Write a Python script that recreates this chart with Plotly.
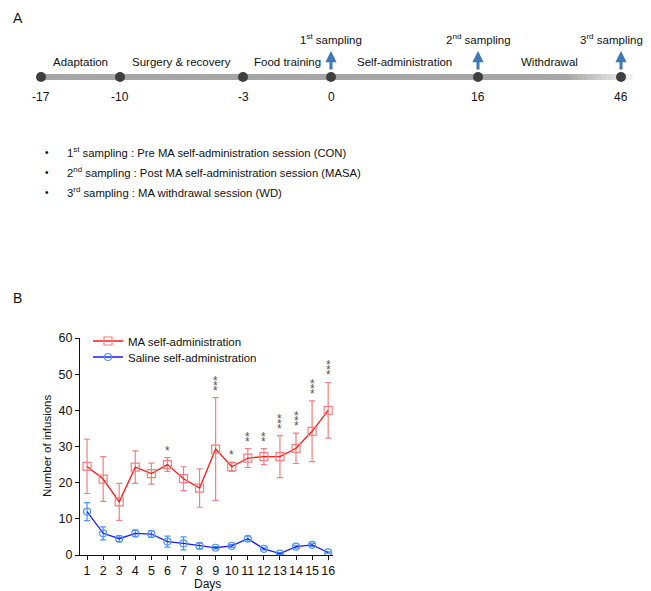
import plotly.graph_objects as go

# ---------------- data ----------------
days = list(range(1, 17))
ma_mean = [24.5, 21.0, 14.7, 24.3, 22.5, 25.0, 21.1, 18.5, 29.3, 24.4, 26.8, 27.2, 27.2, 29.5, 34.2, 40.0]
ma_err = [7.5, 6.2, 5.1, 4.5, 2.9, 1.9, 3.3, 5.3, 14.2, 1.3, 2.6, 2.2, 5.8, 4.2, 8.4, 7.7]
sal_mean = [12.0, 6.0, 4.5, 6.0, 5.8, 3.7, 3.2, 2.5, 2.0, 2.5, 4.5, 1.7, 0.4, 2.3, 2.8, 0.7]
sal_err = [2.5, 1.8, 0.8, 0.9, 0.9, 1.5, 1.8, 0.8, 0.3, 0.4, 0.7, 0.3, 0.2, 0.4, 0.4, 0.2]
sig_stars = [0, 0, 0, 0, 0, 1, 0, 0, 3, 1, 2, 2, 3, 3, 3, 3]
y_ticks = [0, 10, 20, 30, 40, 50, 60]

timeline_days = ["-17", "-10", "-3", "0", "16", "46"]
phase_labels = ["Adaptation", "Surgery & recovery", "Food training", "Self-administration", "Withdrawal"]
sampling_labels = ["1<sup>st</sup> sampling", "2<sup>nd</sup> sampling", "3<sup>rd</sup> sampling"]
sampling_nodes = [3, 4, 5]
bullet_lines = [
    "1<sup>st</sup> sampling : Pre MA self-administration session (CON)",
    "2<sup>nd</sup> sampling : Post MA self-administration session (MASA)",
    "3<sup>rd</sup> sampling : MA withdrawal session (WD)",
]

# ---------------- layout constants ----------------
W, H = 651, 591          # browser window
OFF = 8                  # default page body margin
FW, FH = W - OFF, H - OFF
FONT = "Arial, Liberation Sans, Helvetica, sans-serif"
node_px = [41, 120, 243, 331, 478, 621]   # schematic positions of timeline nodes (page px)
line_y = 77

fig = go.Figure()

# ---------- Panel A: schematic timeline (hidden page-pixel axes x2/y2) ----------
shapes = []
fade_start, fade_end = 562, 632
shapes.append(dict(type="line", xref="x2", yref="y2", x0=node_px[0], x1=fade_start, y0=line_y, y1=line_y,
                   line=dict(color="#a6a6a6", width=6), layer="below"))
nseg = 14
for i in range(nseg):
    a = i / nseg
    x0 = fade_start + (fade_end - fade_start) * i / nseg
    x1 = fade_start + (fade_end - fade_start) * (i + 1) / nseg
    c = int(166 + (245 - 166) * a)
    shapes.append(dict(type="line", xref="x2", yref="y2", x0=x0, x1=x1 + 0.5, y0=line_y, y1=line_y,
                       line=dict(color=f"rgb({c},{c},{c})", width=6), layer="below"))

fig.add_trace(go.Scatter(x=node_px, y=[line_y] * len(node_px), mode="markers",
                         marker=dict(color="#3f3f3f", size=10), xaxis="x2", yaxis="y2",
                         showlegend=False, hoverinfo="skip"))

annotations = []
annotations.append(dict(text="A", x=11, y=18, xref="x2", yref="y2", showarrow=False,
                        xanchor="left", yanchor="middle", font=dict(size=14, color="#111")))
annotations.append(dict(text="B", x=11, y=298, xref="x2", yref="y2", showarrow=False,
                        xanchor="left", yanchor="middle", font=dict(size=14, color="#111")))
for px, lab in zip(node_px, timeline_days):
    annotations.append(dict(text=lab, x=px, y=97, xref="x2", yref="y2", showarrow=False,
                            font=dict(size=12, color="#111")))
for i, lab in enumerate(phase_labels):
    cx = (node_px[i] + node_px[i + 1]) / 2
    annotations.append(dict(text=lab, x=cx, y=62, xref="x2", yref="y2", showarrow=False,
                            font=dict(size=11.5, color="#111")))
for j, (lab, ni) in enumerate(zip(sampling_labels, sampling_nodes)):
    last = j == len(sampling_labels) - 1
    annotations.append(dict(text=lab, x=(W - 6 if last else node_px[ni]), y=39, xref="x2", yref="y2",
                            showarrow=False, xanchor=("right" if last else "center"),
                            font=dict(size=11.5, color="#111")))
    annotations.append(dict(text="", x=node_px[ni], y=51, xref="x2", yref="y2", showarrow=True,
                            ax=0, ay=20, arrowhead=2, arrowsize=0.75, arrowwidth=3,
                            arrowcolor="#3f78b5"))
for k, line in enumerate(bullet_lines):
    yy = 152 + 20 * k
    annotations.append(dict(text="•", x=47, y=yy, xref="x2", yref="y2", showarrow=False,
                            xanchor="center", font=dict(size=10, color="#111")))
    annotations.append(dict(text=line, x=65, y=yy, xref="x2", yref="y2", showarrow=False,
                            xanchor="left", font=dict(size=11.3, color="#111")))

# ---------- Panel B: infusions chart ----------
fig.add_trace(go.Scatter(
    x=days, y=ma_mean, mode="lines+markers", name="MA self-administration", legend="legend",
    line=dict(color="#ff1a1a", width=1.3),
    marker=dict(symbol="square-open", size=8, color="#f57f7f", line=dict(width=1.2, color="#f57f7f")),
    error_y=dict(type="data", array=ma_err, color="#f57f7f", thickness=1.2, width=3),
))
fig.add_trace(go.Scatter(
    x=days, y=sal_mean, mode="lines+markers", name="Saline self-administration", legend="legend2",
    line=dict(color="#1a1aff", width=1.3),
    marker=dict(symbol="circle-open", size=7, color="#4d94ff", line=dict(width=1.2, color="#4d94ff")),
    error_y=dict(type="data", array=sal_err, color="#4d94ff", thickness=1.2, width=3),
))

for d, m, e, n in zip(days, ma_mean, ma_err, sig_stars):
    for k in range(n):
        annotations.append(dict(text="*", x=d, y=m + e, xref="x", yref="y", showarrow=False,
                                yanchor="middle", yshift=7 + 5 * k,
                                font=dict(size=12, color="#555")))

annotations.append(dict(text="Days", x=207, y=584, xref="x2", yref="y2", showarrow=False,
                        font=dict(size=12, color="#111")))
annotations.append(dict(text="Number of infusions", x=47, y=446, xref="x2", yref="y2", showarrow=False,
                        textangle=-90, font=dict(size=11.5, color="#111")))

def dx(p):
    return (p - OFF) / FW

def dy(p):
    return (H - p) / FH

x0p, x1p, ytop, ybot = 80, 333, 338, 555
leg_common = dict(xanchor="left", yanchor="middle", bgcolor="rgba(0,0,0,0)",
                  font=dict(size=11.5, color="#111"), itemwidth=30, borderwidth=0)
fig.update_layout(
    width=FW, height=FH, margin=dict(l=0, r=0, t=0, b=0, autoexpand=False),
    paper_bgcolor="white", plot_bgcolor="rgba(0,0,0,0)",
    font=dict(family=FONT, color="#111"),
    shapes=shapes, annotations=annotations,
    xaxis=dict(domain=[dx(x0p), dx(x1p)], range=[0.56, 16.3], tickmode="array", tickvals=days,
               showline=True, linecolor="#111", linewidth=1, ticks="outside", ticklen=4,
               tickcolor="#111", showgrid=False, zeroline=False, tickfont=dict(size=12.5)),
    yaxis=dict(domain=[dy(ybot), dy(ytop)], range=[0, 60], tickmode="array", tickvals=y_ticks,
               showline=True, linecolor="#111", linewidth=1, ticks="outside", ticklen=4,
               tickcolor="#111", showgrid=False, zeroline=False, tickfont=dict(size=12.5)),
    xaxis2=dict(domain=[0, 1], range=[OFF, W], visible=False, anchor="y2"),
    yaxis2=dict(domain=[0, 1], range=[H, OFF], visible=False, anchor="x2"),
    legend=dict(x=dx(88), y=dy(341), **leg_common),
    legend2=dict(x=dx(88), y=dy(357), **leg_common),
)

fig.write_html("out.html")
